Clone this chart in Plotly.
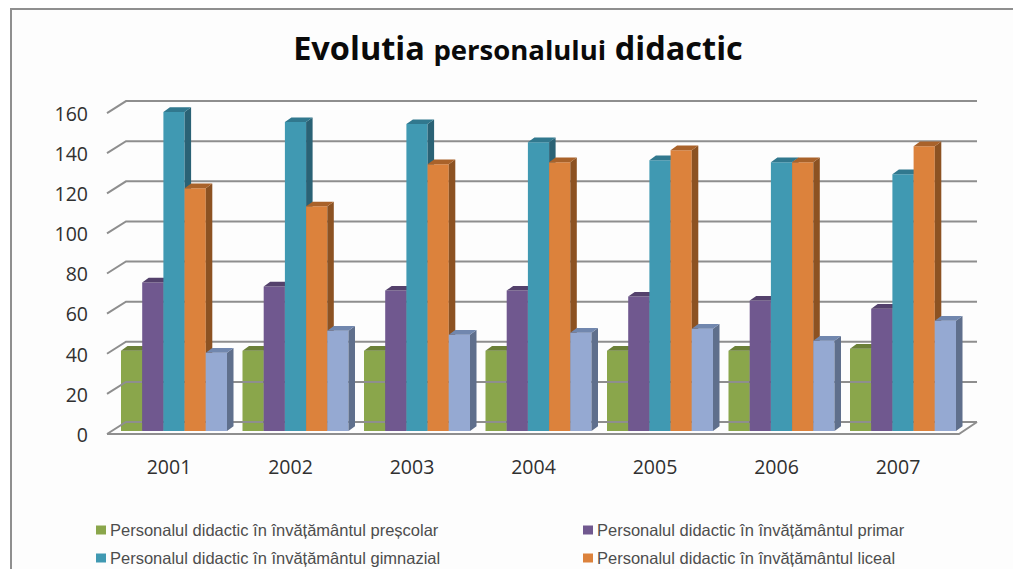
import plotly.graph_objects as go

years = [2001, 2002, 2003, 2004, 2005, 2006, 2007]
preprimary = [40, 40, 40, 40, 40, 40, 41]
primary = [74, 72, 70, 70, 67, 65, 61]
gymnasium = [159, 154, 153, 144, 135, 134, 128]
highschool = [121, 112, 133, 134, 140, 134, 142]
fifth = [39, 50, 48, 49, 51, 45, 55]
y_ticks = [0, 20, 40, 60, 80, 100, 120, 140, 160]
names = ["Personalul didactic în învățământul preșcolar",
         "Personalul didactic în învățământul primar",
         "Personalul didactic în învățământul gimnazial",
         "Personalul didactic în învățământul liceal",
         "Personalul didactic"]
all_values = [preprimary, primary, gymnasium, highschool, fifth]
front_col = ["#8aa64b", "#70588f", "#4099b2", "#dc823c", "#95a9d2"]
side_col = ["#5f7433", "#4e3c66", "#2a6275", "#8c5222", "#5f6f8c"]
top_col = ["#6b8038", "#54416c", "#31788e", "#a9622a", "#7187ae"]

W, H = 1013, 569
PL, PR, PT, PB = 100, 985, 90, 440     # plot box, px
X_PER_YEAR, X_ORIGIN = 121.5, 174      # px per category, px of first category centre
Y_PER_UNIT, Y_ORIGIN = 2.006, 431      # px per unit, px of value 0 on bar plane


def xv(px):
    return years[0] + (px - X_ORIGIN) / X_PER_YEAR


def yv(px):
    return (Y_ORIGIN - px) / Y_PER_UNIT


xr = [xv(PL), xv(PR)]
yr = [yv(PB), yv(PT)]
bw = 21.2 / X_PER_YEAR
ddx = 6.5 / X_PER_YEAR
ddy = 4.7 / Y_PER_UNIT

fig = go.Figure()

# walls: gridlines with depth ticks
gx, gy = [], []
for v in y_ticks:
    gx += [xv(107), xv(126), xv(977), None]
    gy += [v - 3 / Y_PER_UNIT, v + 9 / Y_PER_UNIT, v + 9 / Y_PER_UNIT, None]
fig.add_trace(go.Scatter(x=gx, y=gy, mode="lines", line=dict(color="#8e8e8e", width=2),
                         hoverinfo="skip", showlegend=False))
fig.add_trace(go.Scatter(x=[xv(107), xv(959), xv(977)],
                         y=[-3 / Y_PER_UNIT, -3 / Y_PER_UNIT, 9 / Y_PER_UNIT],
                         mode="lines", line=dict(color="#8e8e8e", width=2),
                         hoverinfo="skip", showlegend=False))

for k, vals in enumerate(all_values):
    n = "" if k == 0 else str(k + 1)
    xa, ya = "x" + n, "y" + n
    off = (k - 2.5) * bw
    sx, sy, tx, ty = [], [], [], []
    for yr_, v in zip(years, vals):
        l = yr_ + off
        r = l + bw
        sx += [r, r + ddx, r + ddx, r, r, None]
        sy += [0, ddy, v + ddy, v, 0, None]
        tx += [l, l + ddx, r + ddx, r, l, None]
        ty += [v, v + ddy, v + ddy, v, v, None]
    fig.add_trace(go.Bar(x=years, y=vals, width=bw, offset=off, name=names[k],
                         marker=dict(color=front_col[k], line=dict(width=0)),
                         xaxis=xa, yaxis=ya, showlegend=False))
    for px_, py_, c in ((sx, sy, side_col[k]), (tx, ty, top_col[k])):
        fig.add_trace(go.Scatter(x=px_, y=py_, mode="lines", fill="toself", fillcolor=c,
                                 line=dict(width=0, color=c), hoverinfo="skip",
                                 showlegend=False, xaxis=xa, yaxis=ya))

dom_x = [PL / W, PR / W]
dom_y = [1 - PB / H, 1 - PT / H]
layout = dict(
    width=W, height=H, margin=dict(l=0, r=0, t=0, b=0, autoexpand=False),
    paper_bgcolor="white", plot_bgcolor="rgba(0,0,0,0)",
    showlegend=False, barmode="overlay",
    title=dict(
        text="<b>Evolutia</b> <span style='font-size:27.5px'><b>personalului</b></span> <b>didactic</b>",
        x=518 / W, xanchor="center", y=1 - 49 / H, yanchor="middle",
        font=dict(family="Open Sans", size=32.5, color="#0a0a0a")),
    xaxis=dict(domain=dom_x, range=xr, tickmode="array", tickvals=years,
               ticktext=[str(y) for y in years], showgrid=False, zeroline=False,
               showline=False, ticks="", ticklabelstandoff=13, ticklabelshift=-5,
               automargin=False,
               tickfont=dict(family="Open Sans", size=19.5, color="#303030")),
    yaxis=dict(domain=dom_y, range=yr, tickmode="array", tickvals=y_ticks,
               showgrid=False, zeroline=False, showline=False, ticks="",
               ticklabelstandoff=11, ticklabelshift=4, automargin=False,
               tickfont=dict(family="Open Sans", size=19.5, color="#303030")),
    shapes=[dict(type="rect", xref="paper", yref="paper", layer="below",
                 x0=11 / W, x1=1.01, y0=-0.1, y1=1 - 9 / H,
                 line=dict(color="#8f8f8f", width=2), fillcolor="#fdfdfd")],
    annotations=[],
)
for k in range(1, 5):
    s = str(k + 1)
    layout["xaxis" + s] = dict(domain=dom_x, range=xr, overlaying="x", anchor="y" + s, visible=False, automargin=False)
    layout["yaxis" + s] = dict(domain=dom_y, range=yr, overlaying="y", anchor="x" + s, visible=False, automargin=False)

# legend rows as placed in the reference (third row falls below the picture)
leg_pos = [(96, 530), (583, 530), (96, 558), (583, 558)]
for k, (lx, ly) in enumerate(leg_pos):
    layout["shapes"].append(dict(type="rect", xref="paper", yref="paper",
                                 x0=lx / W, x1=(lx + 10) / W, y0=1 - (ly + 4.5) / H, y1=1 - (ly - 4.5) / H,
                                 line=dict(width=0), fillcolor=front_col[k]))
    layout["annotations"].append(dict(text=names[k], xref="paper", yref="paper",
                                      x=(lx + 11.5) / W, y=1 - ly / H, xanchor="left", yanchor="middle",
                                      showarrow=False, font=dict(family="Liberation Sans", size=16.5, color="#4d4d4d")))
fig.update_layout(**layout)
fig.write_html(
    "out.html",
    config={"displayModeBar": False},
    post_script=("document.documentElement.style.cssText='margin:0;padding:0;height:569px;overflow:hidden';"
                 "document.body.style.cssText='margin:0;padding:0;height:569px;overflow:hidden';"),
)
